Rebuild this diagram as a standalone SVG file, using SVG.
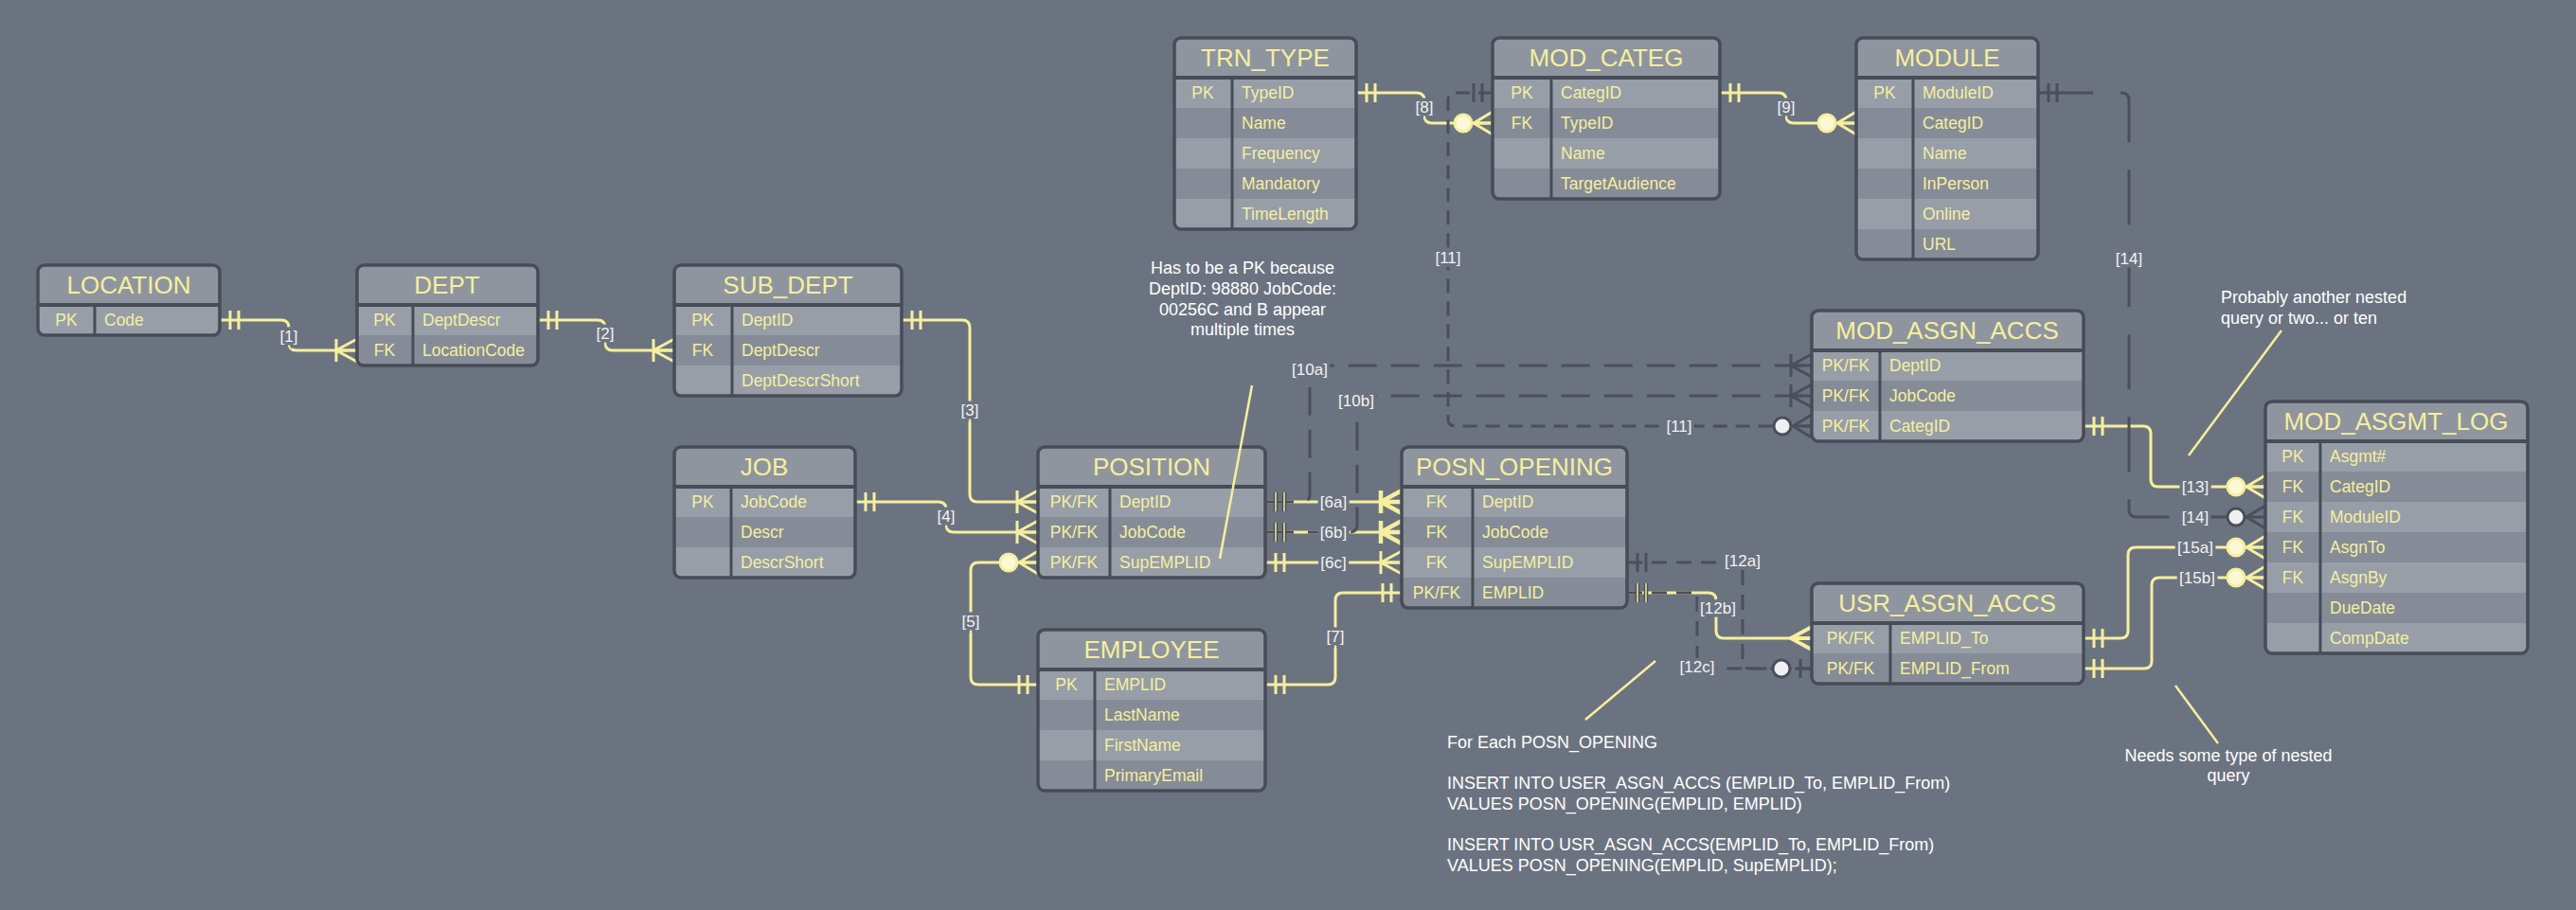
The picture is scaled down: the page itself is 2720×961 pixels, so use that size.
<svg xmlns="http://www.w3.org/2000/svg" xmlns:xlink="http://www.w3.org/1999/xlink" width="2720" height="961" viewBox="0 0 2720 961">
<style>
.bg{fill:#6c7380}
.hdr{fill:#8f959f}
.rl{fill:#979ea8}
.rd{fill:#868c97}
.frame{fill:none;stroke:#474c56;stroke-width:3.5}
.sep{stroke:#474c56;stroke-width:4}
.div{stroke:#474c56;stroke-width:3}
.t{font-family:"Liberation Sans",Arial,sans-serif;fill:#f5ef9e}
.title{font-size:26px;text-anchor:middle}
.f{font-size:17.5px}
.k{text-anchor:middle}
.y{stroke:#f5ef9e;stroke-width:3;fill:none}
.yc{stroke:#f5ef9e;stroke-width:3;fill:#fdf8d6}
.d{stroke:#4a4f59;stroke-width:3;fill:none}
.dc{stroke:#4a4f59;stroke-width:3;fill:#eef0f2}
.lbl{font-family:"Liberation Sans",Arial,sans-serif;font-size:17px;fill:#f2f2f2;text-anchor:middle;paint-order:stroke;stroke:#6c7380;stroke-width:7}
.note{font-family:"Liberation Sans",Arial,sans-serif;font-size:18px;fill:#ffffff}
.an{stroke:#f5ef9e;stroke-width:2.5;fill:none}
</style>
<defs>
<g id="m-one"><path d="M11,-10V10M20,-10V10" fill="none"/></g>
<g id="m-many1"><path d="M0,-12L22,0L0,12M0,0H22M22,-12V12" fill="none"/></g>
<g id="m-many"><path d="M0,-12L22,0L0,12M0,0H22" fill="none"/></g>
<g id="m-many0"><path d="M0,-12L20,0L0,12M0,0H20" fill="none"/><circle cx="31" cy="0" r="9"/></g>
<g id="m-zone"><path d="M12,-10V10" fill="none"/><circle cx="32" cy="0" r="9"/></g>
<clipPath id="c1"><rect x="40" y="280" width="192" height="74" rx="7"/></clipPath>
<clipPath id="c2"><rect x="377" y="280" width="191" height="106" rx="7"/></clipPath>
<clipPath id="c3"><rect x="712" y="280" width="240" height="138" rx="7"/></clipPath>
<clipPath id="c4"><rect x="712" y="472" width="191" height="138" rx="7"/></clipPath>
<clipPath id="c5"><rect x="1096" y="472" width="240" height="138" rx="7"/></clipPath>
<clipPath id="c6"><rect x="1096" y="665" width="240" height="170" rx="7"/></clipPath>
<clipPath id="c7"><rect x="1480" y="472" width="238" height="170" rx="7"/></clipPath>
<clipPath id="c8"><rect x="1240" y="40" width="192" height="202" rx="7"/></clipPath>
<clipPath id="c9"><rect x="1576" y="40" width="240" height="170" rx="7"/></clipPath>
<clipPath id="c10"><rect x="1960" y="40" width="192" height="234" rx="7"/></clipPath>
<clipPath id="c11"><rect x="1913" y="328" width="287" height="138" rx="7"/></clipPath>
<clipPath id="c12"><rect x="1913" y="616" width="287" height="106" rx="7"/></clipPath>
<clipPath id="c13"><rect x="2392" y="424" width="277" height="266" rx="7"/></clipPath>
</defs>
<rect class="bg" x="0" y="0" width="2720" height="961"/>

<g id="connectors">
<path class="y" d="M232,338 H297 Q305,338 305,346 V362 Q305,370 313,370 H377"/>
<path class="y" d="M568,338 H631 Q639,338 639,346 V362 Q639,370 647,370 H712"/>
<path class="y" d="M952,338 H1016 Q1024,338 1024,346 V522 Q1024,530 1032,530 H1096"/>
<path class="y" d="M903,530 H991 Q999,530 999,538 V554 Q999,562 1007,562 H1096"/>
<path class="y" d="M1096,723 H1033 Q1025,723 1025,715 V602 Q1025,594 1033,594 H1096"/>
<path class="y" d="M1336,530 H1480"/>
<path class="y" d="M1336,562 H1480"/>
<path class="y" d="M1336,594 H1480"/>
<path class="y" d="M1480,626 H1418 Q1410,626 1410,634 V715 Q1410,723 1402,723 H1336"/>
<path class="y" d="M1432,98 H1496 Q1504,98 1504,106 V122 Q1504,130 1512,130 H1576"/>
<path class="y" d="M1816,98 H1878 Q1886,98 1886,106 V122 Q1886,130 1894,130 H1960"/>
<path class="y" d="M1718,626 H1804 Q1812,626 1812,634 V666 Q1812,674 1820,674 H1913"/>
<path class="y" d="M2200,450 H2263 Q2271,450 2271,458 V506 Q2271,514 2279,514 H2392"/>
<path class="y" d="M2200,674 H2239 Q2247,674 2247,666 V586 Q2247,578 2255,578 H2392"/>
<path class="y" d="M2200,706 H2264 Q2272,706 2272,698 V618 Q2272,610 2280,610 H2392"/>
<use href="#m-one" class="y" transform="translate(232,338)"/>
<use href="#m-many1" class="y" transform="translate(377,370) scale(-1,1)"/>
<use href="#m-one" class="y" transform="translate(568,338)"/>
<use href="#m-many1" class="y" transform="translate(712,370) scale(-1,1)"/>
<use href="#m-one" class="y" transform="translate(952,338)"/>
<use href="#m-many1" class="y" transform="translate(1096,530) scale(-1,1)"/>
<use href="#m-one" class="y" transform="translate(903,530)"/>
<use href="#m-many1" class="y" transform="translate(1096,562) scale(-1,1)"/>
<use href="#m-one" class="y" transform="translate(1096,723) scale(-1,1)"/>
<use href="#m-many0" class="yc" transform="translate(1096,594) scale(-1,1)"/>
<use href="#m-one" class="y" transform="translate(1336,594)"/>
<use href="#m-many1" class="y" style="stroke-width:4.5" transform="translate(1480,530) scale(-1,1)"/>
<use href="#m-many1" class="y" style="stroke-width:4.5" transform="translate(1480,562) scale(-1,1)"/>
<use href="#m-many1" class="y" transform="translate(1480,594) scale(-1,1)"/>
<use href="#m-one" class="y" transform="translate(1480,626) scale(-1,1)"/>
<use href="#m-one" class="y" transform="translate(1336,723)"/>
<use href="#m-one" class="y" transform="translate(1432,98)"/>
<use href="#m-many0" class="yc" transform="translate(1576,130) scale(-1,1)"/>
<use href="#m-one" class="y" transform="translate(1816,98)"/>
<use href="#m-many0" class="yc" transform="translate(1960,130) scale(-1,1)"/>
<use href="#m-many" class="y" style="stroke-width:4" transform="translate(1913,674) scale(-1,1)"/>
<use href="#m-one" class="y" transform="translate(2200,450)"/>
<use href="#m-one" class="y" transform="translate(2200,674)"/>
<use href="#m-one" class="y" transform="translate(2200,706)"/>
<use href="#m-many0" class="yc" transform="translate(2392,514) scale(-1,1)"/>
<use href="#m-many0" class="yc" transform="translate(2392,578) scale(-1,1)"/>
<use href="#m-many0" class="yc" transform="translate(2392,610) scale(-1,1)"/>
<path class="d" stroke-dasharray="30 15" d="M1336,530 H1375 Q1383,530 1383,522 V394 Q1383,386 1391,386 H1913"/>
<path class="d" stroke-dasharray="30 15" d="M1336,562 H1425 Q1433,562 1433,554 V426 Q1433,418 1441,418 H1913"/>
<path class="d" stroke-dasharray="15 9" d="M1576,98 H1537 Q1529,98 1529,106 V442 Q1529,450 1537,450 H1913"/>
<path class="d" stroke-dasharray="16 10" d="M1718,594 H1840 V698 Q1840,706 1848,706 H1913"/>
<path class="d" stroke-dasharray="16 10" d="M1718,626 H1792 V698 Q1792,706 1800,706 H1913"/>
<path class="d" stroke-dasharray="58 29" d="M2152,98 H2240 Q2248,98 2248,106 V538 Q2248,546 2256,546 H2392"/>
<use href="#m-one" class="d" style="stroke-width:4.5" transform="translate(1336,530)"/>
<use href="#m-one" class="y" style="stroke-width:1.5" transform="translate(1336,530)"/>
<use href="#m-one" class="d" style="stroke-width:4.5" transform="translate(1336,562)"/>
<use href="#m-one" class="y" style="stroke-width:1.5" transform="translate(1336,562)"/>
<use href="#m-many1" class="d" transform="translate(1913,386) scale(-1,1)"/>
<use href="#m-many1" class="d" transform="translate(1913,418) scale(-1,1)"/>
<use href="#m-many0" class="dc" transform="translate(1913,450) scale(-1,1)"/>
<use href="#m-one" class="d" transform="translate(1576,98) scale(-1,1)"/>
<use href="#m-one" class="d" transform="translate(2152,98)"/>
<use href="#m-one" class="d" transform="translate(1718,594)"/>
<use href="#m-one" class="d" style="stroke-width:4.5" transform="translate(1718,626)"/>
<use href="#m-one" class="y" style="stroke-width:1.5" transform="translate(1718,626)"/>
<use href="#m-zone" class="dc" transform="translate(1913,706) scale(-1,1)"/>
<use href="#m-many0" class="dc" transform="translate(2392,546) scale(-1,1)"/>
<text class="lbl" x="305" y="361">[1]</text>
<text class="lbl" x="639" y="358">[2]</text>
<text class="lbl" x="1024" y="439">[3]</text>
<text class="lbl" x="999" y="551">[4]</text>
<text class="lbl" x="1025" y="662">[5]</text>
<text class="lbl" x="1408" y="536">[6a]</text>
<text class="lbl" x="1408" y="568">[6b]</text>
<text class="lbl" x="1408" y="600">[6c]</text>
<text class="lbl" x="1410" y="678">[7]</text>
<text class="lbl" x="1504" y="119">[8]</text>
<text class="lbl" x="1886" y="119">[9]</text>
<text class="lbl" x="1383" y="396">[10a]</text>
<text class="lbl" x="1432" y="429">[10b]</text>
<text class="lbl" x="1529" y="278">[11]</text>
<text class="lbl" x="1773" y="456">[11]</text>
<text class="lbl" x="1840" y="598">[12a]</text>
<text class="lbl" x="1814" y="648">[12b]</text>
<text class="lbl" x="1792" y="710">[12c]</text>
<text class="lbl" x="2318" y="520">[13]</text>
<text class="lbl" x="2248" y="279">[14]</text>
<text class="lbl" x="2318" y="552">[14]</text>
<text class="lbl" x="2318" y="584">[15a]</text>
<text class="lbl" x="2320" y="616">[15b]</text>
</g>

<g id="LOCATION">
<g clip-path="url(#c1)"><rect class="hdr" x="40" y="280" width="192" height="42"/><rect class="rl" x="40" y="322" width="192" height="32"/></g>
<rect class="frame" x="40" y="280" width="192" height="74" rx="7"/>
<line class="sep" x1="40" y1="322" x2="232" y2="322"/><line class="div" x1="100" y1="322" x2="100" y2="354"/>
<text class="t title" x="136" y="310">LOCATION</text>
<text class="t f k" x="70" y="344">PK</text><text class="t f" x="110" y="344">Code</text>
</g>

<g id="DEPT">
<g clip-path="url(#c2)"><rect class="hdr" x="377" y="280" width="191" height="42"/><rect class="rl" x="377" y="322" width="191" height="32"/><rect class="rd" x="377" y="354" width="191" height="32"/></g>
<rect class="frame" x="377" y="280" width="191" height="106" rx="7"/>
<line class="sep" x1="377" y1="322" x2="568" y2="322"/><line class="div" x1="436" y1="322" x2="436" y2="386"/>
<text class="t title" x="472" y="310">DEPT</text>
<text class="t f k" x="406" y="344">PK</text><text class="t f" x="446" y="344">DeptDescr</text>
<text class="t f k" x="406" y="376">FK</text><text class="t f" x="446" y="376">LocationCode</text>
</g>

<g id="SUB_DEPT">
<g clip-path="url(#c3)"><rect class="hdr" x="712" y="280" width="240" height="42"/><rect class="rl" x="712" y="322" width="240" height="32"/><rect class="rd" x="712" y="354" width="240" height="32"/><rect class="rl" x="712" y="386" width="240" height="32"/></g>
<rect class="frame" x="712" y="280" width="240" height="138" rx="7"/>
<line class="sep" x1="712" y1="322" x2="952" y2="322"/><line class="div" x1="773" y1="322" x2="773" y2="418"/>
<text class="t title" x="832" y="310">SUB_DEPT</text>
<text class="t f k" x="742" y="344">PK</text><text class="t f" x="783" y="344">DeptID</text>
<text class="t f k" x="742" y="376">FK</text><text class="t f" x="783" y="376">DeptDescr</text>
<text class="t f" x="783" y="408">DeptDescrShort</text>
</g>

<g id="JOB">
<g clip-path="url(#c4)"><rect class="hdr" x="712" y="472" width="191" height="42"/><rect class="rl" x="712" y="514" width="191" height="32"/><rect class="rd" x="712" y="546" width="191" height="32"/><rect class="rl" x="712" y="578" width="191" height="32"/></g>
<rect class="frame" x="712" y="472" width="191" height="138" rx="7"/>
<line class="sep" x1="712" y1="514" x2="903" y2="514"/><line class="div" x1="772" y1="514" x2="772" y2="610"/>
<text class="t title" x="807" y="502">JOB</text>
<text class="t f k" x="742" y="536">PK</text><text class="t f" x="782" y="536">JobCode</text>
<text class="t f" x="782" y="568">Descr</text>
<text class="t f" x="782" y="600">DescrShort</text>
</g>

<g id="POSITION">
<g clip-path="url(#c5)"><rect class="hdr" x="1096" y="472" width="240" height="42"/><rect class="rl" x="1096" y="514" width="240" height="32"/><rect class="rd" x="1096" y="546" width="240" height="32"/><rect class="rl" x="1096" y="578" width="240" height="32"/></g>
<rect class="frame" x="1096" y="472" width="240" height="138" rx="7"/>
<line class="sep" x1="1096" y1="514" x2="1336" y2="514"/><line class="div" x1="1172" y1="514" x2="1172" y2="610"/>
<text class="t title" x="1216" y="502">POSITION</text>
<text class="t f k" x="1134" y="536">PK/FK</text><text class="t f" x="1182" y="536">DeptID</text>
<text class="t f k" x="1134" y="568">PK/FK</text><text class="t f" x="1182" y="568">JobCode</text>
<text class="t f k" x="1134" y="600">PK/FK</text><text class="t f" x="1182" y="600">SupEMPLID</text>
</g>

<g id="EMPLOYEE">
<g clip-path="url(#c6)"><rect class="hdr" x="1096" y="665" width="240" height="42"/><rect class="rl" x="1096" y="707" width="240" height="32"/><rect class="rd" x="1096" y="739" width="240" height="32"/><rect class="rl" x="1096" y="771" width="240" height="32"/><rect class="rd" x="1096" y="803" width="240" height="32"/></g>
<rect class="frame" x="1096" y="665" width="240" height="170" rx="7"/>
<line class="sep" x1="1096" y1="707" x2="1336" y2="707"/><line class="div" x1="1156" y1="707" x2="1156" y2="835"/>
<text class="t title" x="1216" y="695">EMPLOYEE</text>
<text class="t f k" x="1126" y="729">PK</text><text class="t f" x="1166" y="729">EMPLID</text>
<text class="t f" x="1166" y="761">LastName</text>
<text class="t f" x="1166" y="793">FirstName</text>
<text class="t f" x="1166" y="825">PrimaryEmail</text>
</g>

<g id="POSN_OPENING">
<g clip-path="url(#c7)"><rect class="hdr" x="1480" y="472" width="238" height="42"/><rect class="rl" x="1480" y="514" width="238" height="32"/><rect class="rd" x="1480" y="546" width="238" height="32"/><rect class="rl" x="1480" y="578" width="238" height="32"/><rect class="rd" x="1480" y="610" width="238" height="32"/></g>
<rect class="frame" x="1480" y="472" width="238" height="170" rx="7"/>
<line class="sep" x1="1480" y1="514" x2="1718" y2="514"/><line class="div" x1="1555" y1="514" x2="1555" y2="642"/>
<text class="t title" x="1599" y="502">POSN_OPENING</text>
<text class="t f k" x="1517" y="536">FK</text><text class="t f" x="1565" y="536">DeptID</text>
<text class="t f k" x="1517" y="568">FK</text><text class="t f" x="1565" y="568">JobCode</text>
<text class="t f k" x="1517" y="600">FK</text><text class="t f" x="1565" y="600">SupEMPLID</text>
<text class="t f k" x="1517" y="632">PK/FK</text><text class="t f" x="1565" y="632">EMPLID</text>
</g>

<g id="TRN_TYPE">
<g clip-path="url(#c8)"><rect class="hdr" x="1240" y="40" width="192" height="42"/><rect class="rl" x="1240" y="82" width="192" height="32"/><rect class="rd" x="1240" y="114" width="192" height="32"/><rect class="rl" x="1240" y="146" width="192" height="32"/><rect class="rd" x="1240" y="178" width="192" height="32"/><rect class="rl" x="1240" y="210" width="192" height="32"/></g>
<rect class="frame" x="1240" y="40" width="192" height="202" rx="7"/>
<line class="sep" x1="1240" y1="82" x2="1432" y2="82"/><line class="div" x1="1301" y1="82" x2="1301" y2="242"/>
<text class="t title" x="1336" y="70">TRN_TYPE</text>
<text class="t f k" x="1270" y="104">PK</text><text class="t f" x="1311" y="104">TypeID</text>
<text class="t f" x="1311" y="136">Name</text>
<text class="t f" x="1311" y="168">Frequency</text>
<text class="t f" x="1311" y="200">Mandatory</text>
<text class="t f" x="1311" y="232">TimeLength</text>
</g>

<g id="MOD_CATEG">
<g clip-path="url(#c9)"><rect class="hdr" x="1576" y="40" width="240" height="42"/><rect class="rl" x="1576" y="82" width="240" height="32"/><rect class="rd" x="1576" y="114" width="240" height="32"/><rect class="rl" x="1576" y="146" width="240" height="32"/><rect class="rd" x="1576" y="178" width="240" height="32"/></g>
<rect class="frame" x="1576" y="40" width="240" height="170" rx="7"/>
<line class="sep" x1="1576" y1="82" x2="1816" y2="82"/><line class="div" x1="1638" y1="82" x2="1638" y2="210"/>
<text class="t title" x="1696" y="70">MOD_CATEG</text>
<text class="t f k" x="1607" y="104">PK</text><text class="t f" x="1648" y="104">CategID</text>
<text class="t f k" x="1607" y="136">FK</text><text class="t f" x="1648" y="136">TypeID</text>
<text class="t f" x="1648" y="168">Name</text>
<text class="t f" x="1648" y="200">TargetAudience</text>
</g>

<g id="MODULE">
<g clip-path="url(#c10)"><rect class="hdr" x="1960" y="40" width="192" height="42"/><rect class="rl" x="1960" y="82" width="192" height="32"/><rect class="rd" x="1960" y="114" width="192" height="32"/><rect class="rl" x="1960" y="146" width="192" height="32"/><rect class="rd" x="1960" y="178" width="192" height="32"/><rect class="rl" x="1960" y="210" width="192" height="32"/><rect class="rd" x="1960" y="242" width="192" height="32"/></g>
<rect class="frame" x="1960" y="40" width="192" height="234" rx="7"/>
<line class="sep" x1="1960" y1="82" x2="2152" y2="82"/><line class="div" x1="2020" y1="82" x2="2020" y2="274"/>
<text class="t title" x="2056" y="70">MODULE</text>
<text class="t f k" x="1990" y="104">PK</text><text class="t f" x="2030" y="104">ModuleID</text>
<text class="t f" x="2030" y="136">CategID</text>
<text class="t f" x="2030" y="168">Name</text>
<text class="t f" x="2030" y="200">InPerson</text>
<text class="t f" x="2030" y="232">Online</text>
<text class="t f" x="2030" y="264">URL</text>
</g>

<g id="MOD_ASGN_ACCS">
<g clip-path="url(#c11)"><rect class="hdr" x="1913" y="328" width="287" height="42"/><rect class="rl" x="1913" y="370" width="287" height="32"/><rect class="rd" x="1913" y="402" width="287" height="32"/><rect class="rl" x="1913" y="434" width="287" height="32"/></g>
<rect class="frame" x="1913" y="328" width="287" height="138" rx="7"/>
<line class="sep" x1="1913" y1="370" x2="2200" y2="370"/><line class="div" x1="1985" y1="370" x2="1985" y2="466"/>
<text class="t title" x="2056" y="358">MOD_ASGN_ACCS</text>
<text class="t f k" x="1949" y="392">PK/FK</text><text class="t f" x="1995" y="392">DeptID</text>
<text class="t f k" x="1949" y="424">PK/FK</text><text class="t f" x="1995" y="424">JobCode</text>
<text class="t f k" x="1949" y="456">PK/FK</text><text class="t f" x="1995" y="456">CategID</text>
</g>

<g id="USR_ASGN_ACCS">
<g clip-path="url(#c12)"><rect class="hdr" x="1913" y="616" width="287" height="42"/><rect class="rl" x="1913" y="658" width="287" height="32"/><rect class="rd" x="1913" y="690" width="287" height="32"/></g>
<rect class="frame" x="1913" y="616" width="287" height="106" rx="7"/>
<line class="sep" x1="1913" y1="658" x2="2200" y2="658"/><line class="div" x1="1996" y1="658" x2="1996" y2="722"/>
<text class="t title" x="2056" y="646">USR_ASGN_ACCS</text>
<text class="t f k" x="1954" y="680">PK/FK</text><text class="t f" x="2006" y="680">EMPLID_To</text>
<text class="t f k" x="1954" y="712">PK/FK</text><text class="t f" x="2006" y="712">EMPLID_From</text>
</g>

<g id="MOD_ASGMT_LOG">
<g clip-path="url(#c13)"><rect class="hdr" x="2392" y="424" width="277" height="42"/><rect class="rl" x="2392" y="466" width="277" height="32"/><rect class="rd" x="2392" y="498" width="277" height="32"/><rect class="rl" x="2392" y="530" width="277" height="32"/><rect class="rd" x="2392" y="562" width="277" height="32"/><rect class="rl" x="2392" y="594" width="277" height="32"/><rect class="rd" x="2392" y="626" width="277" height="32"/><rect class="rl" x="2392" y="658" width="277" height="32"/></g>
<rect class="frame" x="2392" y="424" width="277" height="266" rx="7"/>
<line class="sep" x1="2392" y1="466" x2="2669" y2="466"/><line class="div" x1="2450" y1="466" x2="2450" y2="690"/>
<text class="t title" x="2530" y="454">MOD_ASGMT_LOG</text>
<text class="t f k" x="2421" y="488">PK</text><text class="t f" x="2460" y="488">Asgmt#</text>
<text class="t f k" x="2421" y="520">FK</text><text class="t f" x="2460" y="520">CategID</text>
<text class="t f k" x="2421" y="552">FK</text><text class="t f" x="2460" y="552">ModuleID</text>
<text class="t f k" x="2421" y="584">FK</text><text class="t f" x="2460" y="584">AsgnTo</text>
<text class="t f k" x="2421" y="616">FK</text><text class="t f" x="2460" y="616">AsgnBy</text>
<text class="t f" x="2460" y="648">DueDate</text>
<text class="t f" x="2460" y="680">CompDate</text>
</g>

<g id="notes">
<line class="an" x1="1322" y1="407" x2="1288" y2="590"/>
<line class="an" x1="1748" y1="698" x2="1674" y2="760"/>
<line class="an" x1="2409" y1="349" x2="2311" y2="481"/>
<line class="an" x1="2297" y1="724" x2="2342" y2="785"/>
<text class="note" text-anchor="middle"><tspan x="1312" y="289">Has to be a PK because</tspan><tspan x="1312" y="311">DeptID: 98880 JobCode:</tspan><tspan x="1312" y="333">00256C and B appear</tspan><tspan x="1312" y="354">multiple times</tspan></text>
<text class="note"><tspan x="2345" y="320">Probably another nested</tspan><tspan x="2345" y="342">query or two... or ten</tspan></text>
<text class="note" text-anchor="middle"><tspan x="2353" y="804">Needs some type of nested</tspan><tspan x="2353" y="825">query</tspan></text>
<text class="note"><tspan x="1528" y="790">For Each POSN_OPENING</tspan><tspan x="1528" y="833">INSERT INTO USER_ASGN_ACCS (EMPLID_To, EMPLID_From)</tspan><tspan x="1528" y="855">VALUES POSN_OPENING(EMPLID, EMPLID)</tspan><tspan x="1528" y="898">INSERT INTO USR_ASGN_ACCS(EMPLID_To, EMPLID_From)</tspan><tspan x="1528" y="920">VALUES POSN_OPENING(EMPLID, SupEMPLID);</tspan></text>
</g>
</svg>
